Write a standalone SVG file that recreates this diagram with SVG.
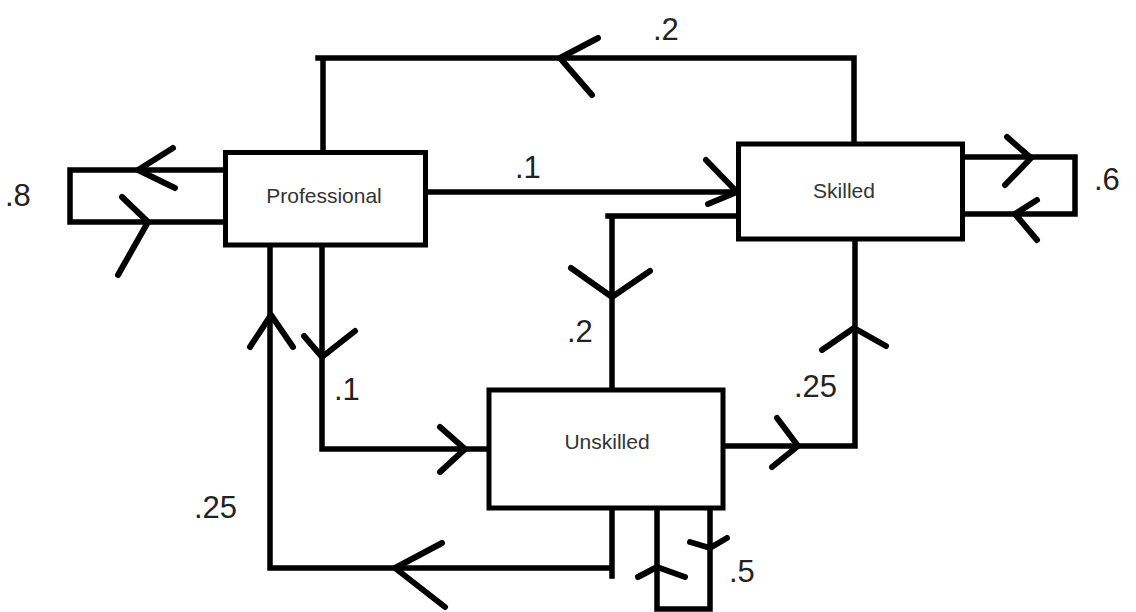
<svg xmlns="http://www.w3.org/2000/svg" width="1136" height="612" viewBox="0 0 1136 612">
<style>
.ln{fill:none;stroke:#000;stroke-width:5.5;stroke-linecap:square;stroke-linejoin:miter}
.ar{fill:none;stroke:#000;stroke-width:6;stroke-linecap:round;stroke-linejoin:round}
.box{fill:#fff;stroke:#000;stroke-width:5}
.nt{font-family:"Liberation Sans",Arial,sans-serif;font-size:21px;fill:#333;text-anchor:middle}
.lb{font-family:"Liberation Sans",Arial,sans-serif;font-size:31px;fill:#222}
</style>
<rect width="1136" height="612" fill="#fff"/>
<g id="connectors">
  <!-- Professional self loop .8 -->
  <path class="ln" d="M223,170 H70 V222 H223"/>
  <path class="ar" d="M173,148 L138,170 L175,188"/>
  <path class="ar" d="M122,197 L148,222 L118,275"/>
  <!-- Skilled -> Professional .2 -->
  <path class="ln" d="M318,58 H854 V144 M323,58 V152"/>
  <path class="ar" d="M598,38 L560,58 L592,95"/>
  <!-- Professional -> Skilled .1 -->
  <path class="ln" d="M428,192 H736"/>
  <path class="ar" d="M706,160 L737,192 L708,204"/>
  <!-- Skilled -> Unskilled .2 -->
  <path class="ln" d="M736,216 H608 M612,216 V390"/>
  <path class="ar" d="M571,268 L612,297 L650,271"/>
  <!-- Professional -> Unskilled .1 -->
  <path class="ln" d="M322,245 V449 H489"/>
  <path class="ar" d="M304,336 L322,357 L355,331"/>
  <path class="ar" d="M440,427 L465,449 L440,472"/>
  <!-- Unskilled -> Professional .25 -->
  <path class="ln" d="M612,508 V576 M612,568 H270 V245"/>
  <path class="ar" d="M250,347 L271,315 L293,347"/>
  <path class="ar" d="M442,543 L395,568 L445,607"/>
  <!-- Unskilled -> Skilled .25 -->
  <path class="ln" d="M723,446 H855 V239"/>
  <path class="ar" d="M777,418 L798,446 L772,467"/>
  <path class="ar" d="M822,350 L854,328 L886,346"/>
  <!-- Skilled self loop .6 -->
  <path class="ln" d="M963,157 H1075 V214 H963"/>
  <path class="ar" d="M1007,137 L1031,158 L1005,185"/>
  <path class="ar" d="M1037,200 L1015,214 L1037,240"/>
  <!-- Unskilled self loop .5 -->
  <path class="ln" d="M657,500 V609 H710 V503"/>
  <path class="ar" d="M690,542 L710,548 L727,538"/>
  <path class="ar" d="M638,577 L657,567 L685,577"/>
</g>
<g id="labels">
  <text class="lb" x="5" y="206">.8</text>
  <text class="lb" x="653" y="40">.2</text>
  <text class="lb" x="515" y="178">.1</text>
  <text class="lb" x="1094" y="190">.6</text>
  <text class="lb" x="567" y="342">.2</text>
  <text class="lb" x="334" y="400">.1</text>
  <text class="lb" x="794" y="397">.25</text>
  <text class="lb" x="194" y="518">.25</text>
  <text class="lb" x="729" y="582">.5</text>
</g>
<g id="professional">
  <rect class="box" x="225.5" y="152.5" width="200" height="92.5"/>
  <text class="nt" x="324" y="203">Professional</text>
</g>
<g id="skilled">
  <rect class="box" x="738.5" y="144" width="224" height="95"/>
  <text class="nt" x="844" y="198">Skilled</text>
</g>
<g id="unskilled">
  <rect class="box" x="489" y="390" width="234" height="118"/>
  <text class="nt" x="607" y="449">Unskilled</text>
</g>
</svg>
